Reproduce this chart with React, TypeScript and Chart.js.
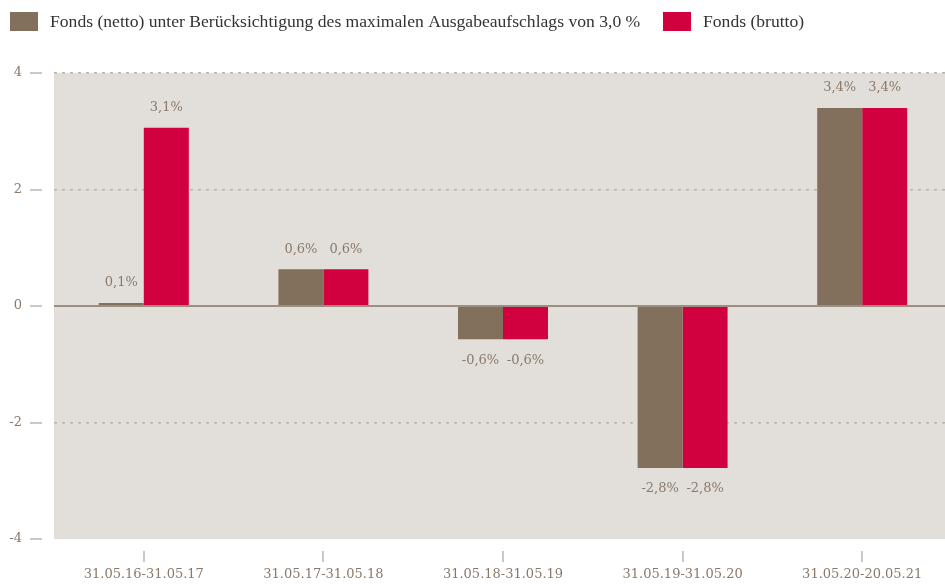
import React, { useEffect, useRef } from "react";
import { Chart, registerables } from "chart.js";

Chart.register(...registerables);

const categories = [
  "31.05.16-31.05.17",
  "31.05.17-31.05.18",
  "31.05.18-31.05.19",
  "31.05.19-31.05.20",
  "31.05.20-20.05.21",
];
const nettoValues = [0.05, 0.63, -0.57, -2.78, 3.4];
const bruttoValues = [3.06, 0.63, -0.57, -2.78, 3.4];
const nettoLabels = ["0,1%", "0,6%", "-0,6%", "-2,8%", "3,4%"];
const bruttoLabels = ["3,1%", "0,6%", "-0,6%", "-2,8%", "3,4%"];
const seriesNames = [
  "Fonds (netto) unter Berücksichtigung des maximalen Ausgabeaufschlags von 3,0 %",
  "Fonds (brutto)",
];
const yTicks = [-4, -2, 0, 2, 4];

const NETTO = "#82705c";
const BRUTTO = "#d1003f";
const TEXT = "#8a7968";
const BG = "#e2dfdb";

const decorPlugin = {
  id: "decor",
  beforeDraw(chart: any) {
    const { ctx, chartArea } = chart;
    ctx.save();
    ctx.fillStyle = BG;
    ctx.fillRect(chartArea.left, chartArea.top, chartArea.right - chartArea.left, chartArea.bottom - chartArea.top);
    ctx.restore();
  },
  afterDatasetsDraw(chart: any) {
    const { ctx, chartArea, scales } = chart;
    const y = scales.y;
    const x = scales.x;
    ctx.save();
    // zero line
    const y0 = y.getPixelForValue(0);
    ctx.strokeStyle = "#9d8f80";
    ctx.lineWidth = 2;
    ctx.beginPath();
    ctx.moveTo(chartArea.left, y0);
    ctx.lineTo(chartArea.right, y0);
    ctx.stroke();
    // y tick marks
    ctx.strokeStyle = "#c9c9c9";
    ctx.lineWidth = 2;
    yTicks.forEach((v) => {
      const py = Math.round(y.getPixelForValue(v));
      ctx.beginPath();
      ctx.moveTo(chartArea.left - 24, py);
      ctx.lineTo(chartArea.left - 12, py);
      ctx.stroke();
    });
    // x tick marks
    categories.forEach((_, i) => {
      const px = Math.round(x.getPixelForValue(i));
      ctx.beginPath();
      ctx.moveTo(px, chartArea.bottom + 12);
      ctx.lineTo(px, chartArea.bottom + 23);
      ctx.stroke();
    });
    // data labels
    ctx.fillStyle = TEXT;
    ctx.font = "13px 'DejaVu Serif'";
    ctx.textAlign = "center";
    ctx.textBaseline = "middle";
    const labelSets = [nettoLabels, bruttoLabels];
    chart.data.datasets.forEach((ds: any, di: number) => {
      const meta = chart.getDatasetMeta(di);
      meta.data.forEach((bar: any, i: number) => {
        const v = ds.data[i];
        const ty = v >= 0 ? bar.y - 20 : bar.y + 21;
        ctx.fillText(labelSets[di][i], bar.x, ty);
      });
    });
    // legend
    ctx.textAlign = "left";
    ctx.font = "17.6px 'Liberation Serif'";
    const legendX = [10, 663];
    chart.data.datasets.forEach((ds: any, di: number) => {
      ctx.fillStyle = ds.backgroundColor;
      ctx.fillRect(legendX[di], 12, 28, 19);
      ctx.fillStyle = "#333333";
      ctx.fillText(ds.label, legendX[di] + 40, 22);
    });
    ctx.restore();
  },
};

export default function App() {
  const ref = useRef<HTMLCanvasElement | null>(null);
  useEffect(() => {
    document.body.style.margin = "0";
    document.body.style.overflow = "hidden";
    const chart = new Chart(ref.current as HTMLCanvasElement, {
      type: "bar",
      data: {
        labels: categories,
        datasets: [
          { label: seriesNames[0], data: nettoValues, backgroundColor: NETTO, categoryPercentage: 0.501, barPercentage: 1.0 },
          { label: seriesNames[1], data: bruttoValues, backgroundColor: BRUTTO, categoryPercentage: 0.501, barPercentage: 1.0 },
        ],
      },
      options: {
        responsive: false,
        animation: false,
        layout: { padding: { top: 73, left: 0, right: 0, bottom: 0 } },
        plugins: { legend: { display: false }, tooltip: { enabled: false } },
        scales: {
          x: {
            afterFit(scale: any) {
              scale.height = 45;
            },
            grid: { display: false, drawTicks: false },
            border: { display: false },
            ticks: {
              color: TEXT,
              font: { family: "'DejaVu Serif'", size: 13 },
              padding: 28,
              maxRotation: 0,
            },
          },
          y: {
            min: -4,
            max: 4,
            afterFit(scale: any) {
              scale.width = 54;
            },
            afterBuildTicks(scale: any) {
              scale.ticks = yTicks.map((v) => ({ value: v }));
            },
            border: { display: false },
            grid: {
              drawTicks: false,
              color: (c: any) => (c.tick && (c.tick.value === 0 || c.tick.value === -4) ? "rgba(0,0,0,0)" : "#bcb2a6"),
              lineWidth: 1.5,
            },
            ticks: {
              color: TEXT,
              font: { family: "'DejaVu Serif'", size: 13 },
              padding: 32,
              callback: (v: any) => String(v),
            },
          },
        },
      },
      plugins: [decorPlugin],
    } as any);
    (chart.options.scales as any).y.grid.borderDash = [3, 5];
    (chart.options.scales as any).y.border.dash = [3, 5];
    chart.update();
    return () => chart.destroy();
  }, []);
  return <canvas ref={ref} width={952} height={584} style={{ display: "block" }} />;
}
